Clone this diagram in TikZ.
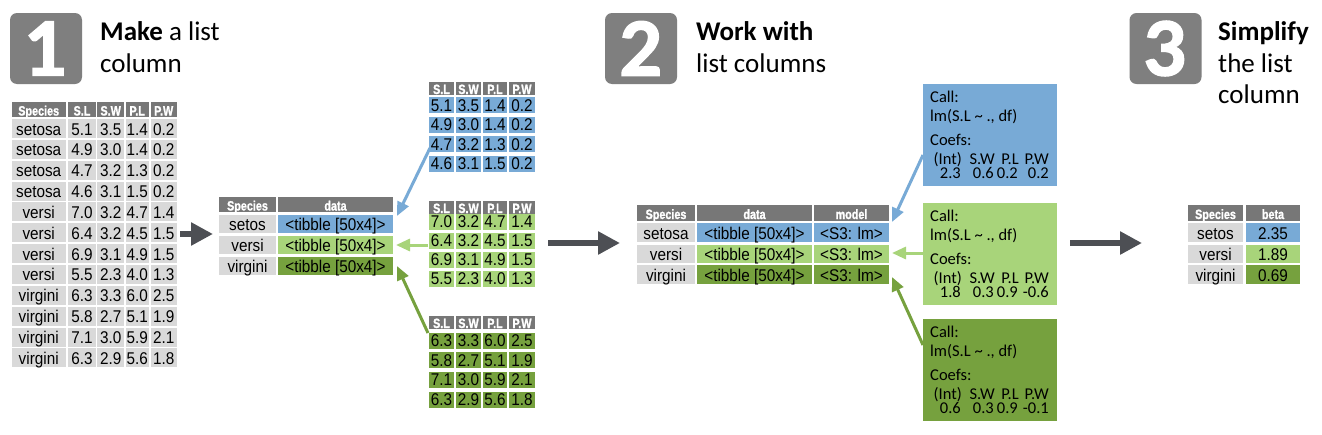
\documentclass[tikz,border=0pt]{standalone}
\usepackage{fontspec}
\setmainfont{Carlito}
\newfontfamily\tabfont{Liberation Sans}[FakeStretch=0.9]
\newfontfamily\hdrfont{Liberation Sans}[FakeStretch=0.8, FakeBold=1.2]
\newfontfamily\badgefont{Lato}[FakeBold=2.5]
\usetikzlibrary{arrows.meta}
\definecolor{cblue}{HTML}{78AAD6}
\definecolor{clgreen}{HTML}{A8D47A}
\definecolor{cdgreen}{HTML}{76A13E}
\definecolor{cgray}{HTML}{D9D9D9}
\definecolor{chead}{HTML}{777777}
\definecolor{cbadge}{HTML}{7F7F7F}
\definecolor{carrow}{HTML}{4D4F54}
\tikzset{
 cell/.style={inner sep=0pt, outer sep=0pt, text=black, font=\tabfont\fontsize{17}{17}\selectfont, text height=13pt, text depth=0pt},
 hcell/.style={cell, fill=chead, text=white, font=\hdrfont\bfseries\fontsize{13.5}{13.5}\selectfont, text height=12pt},
 badge/.style={fill=cbadge, rounded corners=7pt, minimum width=72, minimum height=71, inner sep=0pt, text=white, font=\badgefont\bfseries\fontsize{74}{74}\selectfont},
 title/.style={anchor=base west, inner sep=0pt, font=\fontsize{27}{27}\selectfont},
 modelbg/.style={anchor=north west, inner sep=0pt, minimum width=134, minimum height=102},
 btext/.style={inner sep=0pt, font=\fontsize{16.5}{16.5}\selectfont, anchor=base west},
 bnum/.style={btext, anchor=base east},
 thinarrow/.style={line width=3pt, -{Triangle[length=14pt,width=12pt]}},
 thickarrow/.style={line width=6.5pt, carrow, -{Triangle[length=22pt,width=22pt]}},
}
\newcommand\subtable[6]{%
  \foreach \t/\xc/\w [count=\j] in {S.L/441.5/25, S.W/468.5/25, P.L/495/24, P.W/522/26}
    \node[hcell, minimum width=\w, minimum height=13] (#1H\j) at (\xc,#3) {\t};
  \foreach \a/\b/\c/\d [count=\i] in {#6} {
    \pgfmathsetmacro\yc{#4+#5*(\i-1)}
    \node[cell, fill=#2, text height=12pt, minimum width=25, minimum height=16] (#1-\i-1) at (441.5,\yc) {\a};
    \node[cell, fill=#2, text height=12pt, minimum width=25, minimum height=16] (#1-\i-2) at (468.5,\yc) {\b};
    \node[cell, fill=#2, text height=12pt, minimum width=24, minimum height=16] (#1-\i-3) at (495,\yc) {\c};
    \node[cell, fill=#2, text height=12pt, minimum width=26, minimum height=16] (#1-\i-4) at (522,\yc) {\d};
  }
}
\newcommand\modelbox[7]{%
  \node[modelbg, fill=#2] (#1) at (923,#3) {};
  \node[btext] (#1a) at (930,#3+18) {Call:};
  \node[btext] (#1b) at (930,#3+37) {lm(S.L \textasciitilde\ ., df)};
  \node[btext] (#1c) at (930,#3+61) {Coefs:};
  \node[bnum] (#1h1) at (962,#3+80) {(Int)};
  \node[bnum] (#1h2) at (995,#3+80) {S.W};
  \node[bnum] (#1h3) at (1019,#3+80) {P.L};
  \node[bnum] (#1h4) at (1049,#3+80) {P.W};
  \node[bnum] (#1v1) at (961,#3+94) {#4};
  \node[bnum] (#1v2) at (994,#3+94) {#5};
  \node[bnum] (#1v3) at (1018,#3+94) {#6};
  \node[bnum] (#1v4) at (1049,#3+94) {#7};
}
\begin{document}
\begin{tikzpicture}[x=1pt,y=-1pt]
\useasboundingbox (0,0) rectangle (1322,434);
\fill[white] (0,0) rectangle (1322,434);

% badges and titles
\node[badge] (b1) at (46,48.5) {1};
\node[badge] (b2) at (641,48.5) {2};
\node[badge] (b3) at (1165.5,48.5) {3};
\node[title] (t1a) at (100,40) {\textbf{Make} a list};
\node[title] (t1b) at (100,72.5) {column};
\node[title] (t2a) at (696,40) {\textbf{Work with}};
\node[title] (t2b) at (696,72.5) {list columns};
\node[title] (t3a) at (1218,40) {\textbf{Simplify}};
\node[title] (t3b) at (1218,72) {the list};
\node[title] (t3c) at (1218,103) {column};

% left table
\foreach \t/\xc/\w [count=\j] in {Species/38.7/54, S.L/82/27.4, S.W/110.7/26.7, P.L/137.2/23, P.W/163.7/26}
  \node[hcell, minimum width=\w, minimum height=15] (LH\j) at (\xc,109.5) {\t};
\foreach \sp/\a/\b/\c/\d [count=\i] in {setosa/5.1/3.5/1.4/0.2, setosa/4.9/3.0/1.4/0.2, setosa/4.7/3.2/1.3/0.2, setosa/4.6/3.1/1.5/0.2, versi/7.0/3.2/4.7/1.4, versi/6.4/3.2/4.5/1.5, versi/6.9/3.1/4.9/1.5, versi/5.5/2.3/4.0/1.3, virgini/6.3/3.3/6.0/2.5, virgini/5.8/2.7/5.1/1.9, virgini/7.1/3.0/5.9/2.1, virgini/6.3/2.9/5.6/1.8} {
  \pgfmathsetmacro\yc{128.5+20.85*(\i-1)}
  \node[cell, fill=cgray, minimum width=54, minimum height=19] (L-\i-0) at (38.7,\yc) {\sp};
  \node[cell, fill=cgray, minimum width=27.4, minimum height=19] (L-\i-1) at (82,\yc) {\a};
  \node[cell, fill=cgray, minimum width=26.7, minimum height=19] (L-\i-2) at (110.7,\yc) {\b};
  \node[cell, fill=cgray, minimum width=23, minimum height=19] (L-\i-3) at (137.2,\yc) {\c};
  \node[cell, fill=cgray, minimum width=26, minimum height=19] (L-\i-4) at (163.7,\yc) {\d};
}

% nested table (part 1)
\node[hcell, minimum width=57, minimum height=15] (NH1) at (247.5,204.5) {Species};
\node[hcell, minimum width=115, minimum height=15] (NH2) at (335.5,204.5) {data};
\foreach \sp/\col/\yc [count=\i] in {setos/cblue/224, versi/clgreen/245, virgini/cdgreen/265.5} {
  \node[cell, fill=cgray, minimum width=57, minimum height=18] (N-\i-1) at (247.5,\yc) {\sp};
  \node[cell, fill=\col, minimum width=115, minimum height=18] (N-\i-2) at (335.5,\yc) {<tibble [50x4]>};
}

% sub tables
\subtable{SA}{cblue}{88}{105}{19.5}{5.1/3.5/1.4/0.2, 4.9/3.0/1.4/0.2, 4.7/3.2/1.3/0.2, 4.6/3.1/1.5/0.2}
\subtable{SB}{clgreen}{207}{221.5}{19}{7.0/3.2/4.7/1.4, 6.4/3.2/4.5/1.5, 6.9/3.1/4.9/1.5, 5.5/2.3/4.0/1.3}
\subtable{SC}{cdgreen}{322}{340.5}{19.7}{6.3/3.3/6.0/2.5, 5.8/2.7/5.1/1.9, 7.1/3.0/5.9/2.1, 6.3/2.9/5.6/1.8}

% model table (part 2)
\node[hcell, minimum width=58, minimum height=16] (MH1) at (666,213) {Species};
\node[hcell, minimum width=115, minimum height=16] (MH2) at (754.5,213) {data};
\node[hcell, minimum width=75, minimum height=16] (MH3) at (851.5,213) {model};
\foreach \sp/\col/\yc [count=\i] in {setosa/cblue/232.5, versi/clgreen/254, virgini/cdgreen/274.5} {
  \node[cell, fill=cgray, minimum width=58, minimum height=18.5] (M-\i-1) at (666,\yc) {\sp};
  \node[cell, fill=\col, minimum width=115, minimum height=18.5] (M-\i-2) at (754.5,\yc) {<tibble [50x4]>};
  \node[cell, fill=\col, minimum width=75, minimum height=18.5] (M-\i-3) at (851.5,\yc) {<S3: lm>};
}

% model boxes
\modelbox{BA}{cblue}{84}{2.3}{0.6}{0.2}{0.2}
\modelbox{BB}{clgreen}{203}{1.8}{0.3}{0.9}{-0.6}
\modelbox{BC}{cdgreen}{319}{0.6}{0.3}{0.9}{-0.1}

% result table (part 3)
\node[hcell, minimum width=55, minimum height=16] (RH1) at (1215.5,213) {Species};
\node[hcell, minimum width=54, minimum height=16] (RH2) at (1273,213) {beta};
\foreach \sp/\col/\v/\yc [count=\i] in {setos/cblue/2.35/232.5, versi/clgreen/1.89/254, virgini/cdgreen/0.69/274.5} {
  \node[cell, fill=cgray, minimum width=55, minimum height=18.5] (R-\i-1) at (1215.5,\yc) {\sp};
  \node[cell, fill=\col, minimum width=54, minimum height=18.5] (R-\i-2) at (1273,\yc) {\v};
}

% arrow end points
\coordinate (a1s) at (180,234);   \coordinate (a1e) at (213,234);
\coordinate (a2s) at (548,243);   \coordinate (a2e) at (620,243);
\coordinate (a3s) at (1070,243);  \coordinate (a3e) at (1142,243);
\coordinate (p1bs) at (430,148);  \coordinate (p1be) at (397,216);
\coordinate (p1gs) at (428,245);  \coordinate (p1ge) at (396,245);
\coordinate (p1ds) at (428,333);  \coordinate (p1de) at (397,266);
\coordinate (p2bs) at (923,155);  \coordinate (p2be) at (892,222);
\coordinate (p2gs) at (923,253);  \coordinate (p2ge) at (892,253);
\coordinate (p2ds) at (923,345);  \coordinate (p2de) at (892,277);

\draw[thickarrow] (a1s) -- (a1e);
\draw[thickarrow] (a2s) -- (a2e);
\draw[thickarrow] (a3s) -- (a3e);
\draw[thinarrow, cblue] (p1bs) -- (p1be);
\draw[thinarrow, clgreen] (p1gs) -- (p1ge);
\draw[thinarrow, cdgreen] (p1ds) -- (p1de);
\draw[thinarrow, cblue] (p2bs) -- (p2be);
\draw[thinarrow, clgreen] (p2gs) -- (p2ge);
\draw[thinarrow, cdgreen] (p2ds) -- (p2de);
\end{tikzpicture}
\end{document}
